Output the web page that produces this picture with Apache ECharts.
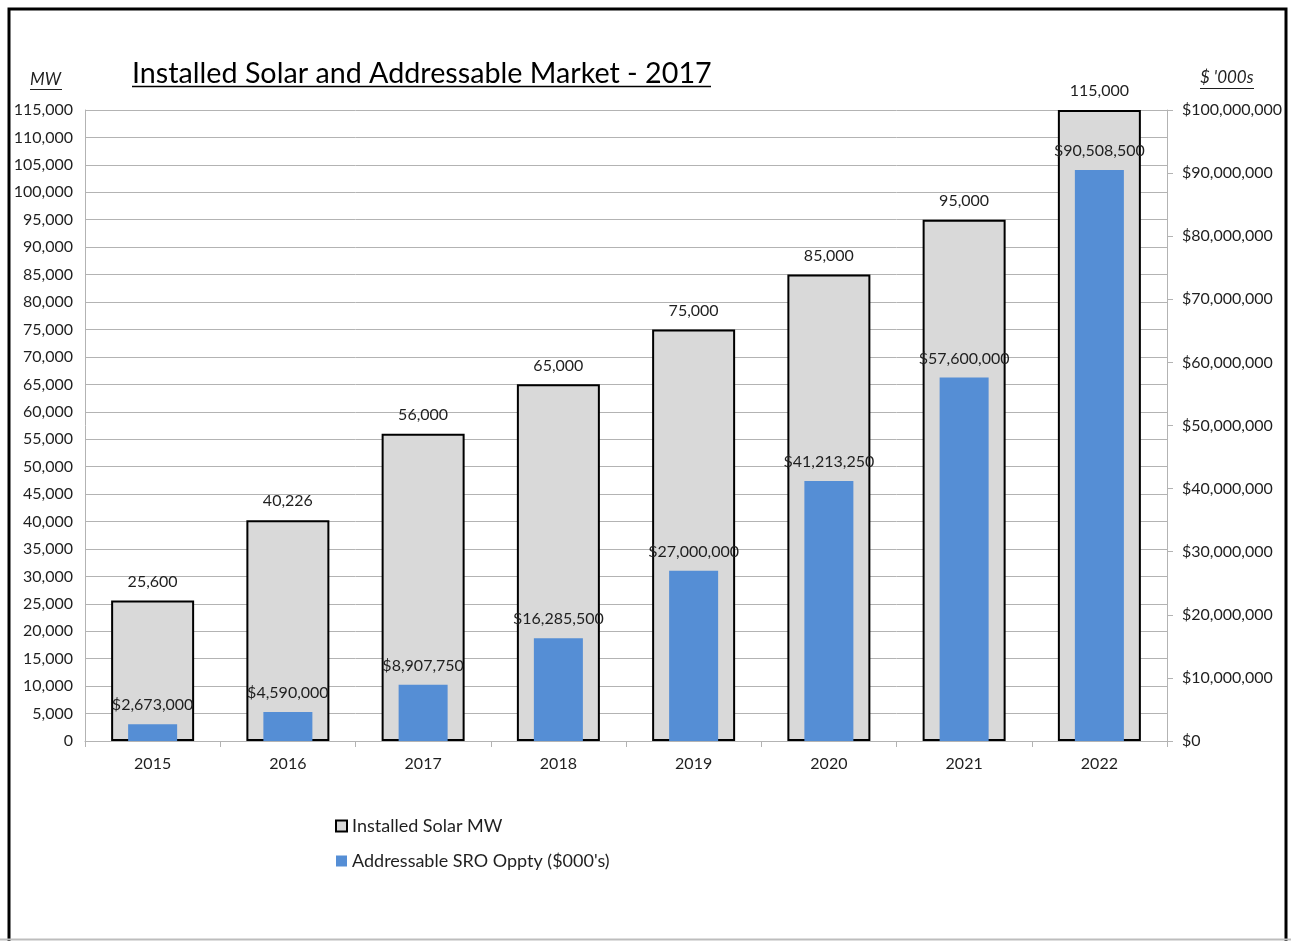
<!DOCTYPE html>
<html>
<head>
<meta charset="utf-8">
<script src="https://cdn.jsdelivr.net/npm/echarts@6/dist/echarts.min.js"></script>
<style>
html,body{margin:0;padding:0;background:#fff;}
#chart{width:1291px;height:941px;}
</style>
</head>
<body>
<div id="chart"></div>
<script>
const years = ['2015','2016','2017','2018','2019','2020','2021','2022'];
const installedMW = [25600, 40226, 56000, 65000, 75000, 85000, 95000, 115000];
const addressableK = [2673000, 4590000, 8907750, 16285500, 27000000, 41213250, 57600000, 90508500];
const seriesNames = ['Installed Solar MW', "Addressable SRO Oppty ($000's)"];

const FONT = 'Lato';
const TXT = '#1f1f1f';
const GRID = '#b3b3b3';
function comma(v){ return String(Math.round(v)).replace(/\B(?=(\d{3})+(?!\d))/g, ','); }

const chart = echarts.init(document.getElementById('chart'));
chart.setOption({
  animation: false,
  backgroundColor: '#fff',
  textStyle: { fontFamily: FONT, color: TXT },
  title: {
    text: 'Installed Solar and Addressable Market - 2017',
    left: 127, top: 54,
    textStyle: { fontFamily: FONT, fontSize: 28.7, fontWeight: 'normal', color: '#000' }
  },
  graphic: [
    { type: 'rect', shape: { x: 9, y: 9, width: 1277, height: 940 }, style: { fill: 'none', stroke: '#000', lineWidth: 3 }, z: 100 },
    { type: 'line', shape: { x1: 0, y1: 939.5, x2: 1291, y2: 939.5 }, style: { stroke: '#bdbdbd', lineWidth: 2 }, z: 100 },
    { type: 'line', shape: { x1: 132, y1: 86.5, x2: 711, y2: 86.5 }, style: { stroke: '#000', lineWidth: 1.5 } },
    { type: 'text', left: 30, top: 71, style: { text: 'MW', font: 'italic 17px Lato', fill: TXT } },
    { type: 'line', shape: { x1: 30, y1: 89.5, x2: 62, y2: 89.5 }, style: { stroke: TXT, lineWidth: 1 } },
    { type: 'text', left: 1200, top: 69, style: { text: "$ '000s", font: 'italic 17px Lato', fill: TXT } },
    { type: 'line', shape: { x1: 1200, y1: 88.5, x2: 1254, y2: 88.5 }, style: { stroke: TXT, lineWidth: 1 } }
  ],
  legend: {
    orient: 'vertical',
    left: 330, top: 812,
    itemWidth: 11, itemHeight: 11, itemGap: 17,
    textStyle: { fontFamily: FONT, fontSize: 18, color: TXT },
    data: [
      { name: seriesNames[0], icon: 'rect', itemStyle: { color: '#d9d9d9', borderColor: '#000', borderWidth: 2 } },
      { name: seriesNames[1], icon: 'rect', itemStyle: { color: '#558ed5', borderWidth: 0 } }
    ]
  },
  grid: { left: 85, right: 124, top: 110, bottom: 200, containLabel: false },
  xAxis: [
    {
      type: 'category', data: years,
      axisLine: { lineStyle: { color: GRID, width: 1 } },
      axisTick: { show: true, length: 6, lineStyle: { color: GRID } },
      axisLabel: { fontFamily: FONT, fontSize: 16, color: TXT, margin: 15 }
    },
    { type: 'category', data: years, show: false }
  ],
  yAxis: [
    {
      type: 'value', min: 0, max: 115000, interval: 5000,
      axisLine: { show: true, lineStyle: { color: GRID } },
      axisTick: { show: false },
      splitLine: { lineStyle: { color: GRID, width: 1 } },
      axisLabel: { fontFamily: FONT, fontSize: 16, color: TXT, margin: 12, formatter: v => comma(v) }
    },
    {
      type: 'value', min: 0, max: 100000000, interval: 10000000, position: 'right',
      axisLine: { show: true, lineStyle: { color: GRID } },
      axisTick: { show: true, length: 6, lineStyle: { color: GRID } },
      splitLine: { show: false },
      axisLabel: { fontFamily: FONT, fontSize: 16, color: TXT, margin: 15, formatter: v => '$' + comma(v) }
    }
  ],
  series: [
    {
      name: seriesNames[0], type: 'bar', xAxisIndex: 0, yAxisIndex: 0,
      data: installedMW, barWidth: 83,
      itemStyle: { color: '#d9d9d9', borderColor: '#000', borderWidth: 2 },
      label: { show: true, position: 'top', distance: 11, fontFamily: FONT, fontSize: 16, color: TXT, formatter: p => comma(p.value) },
      z: 2
    },
    {
      name: seriesNames[1], type: 'bar', xAxisIndex: 1, yAxisIndex: 1,
      data: addressableK, barWidth: 49,
      itemStyle: { color: '#558ed5' },
      label: { show: true, position: 'top', distance: 11, fontFamily: FONT, fontSize: 16, color: TXT, formatter: p => '$' + comma(p.value) },
      z: 3
    }
  ]
});
</script>
</body>
</html>
